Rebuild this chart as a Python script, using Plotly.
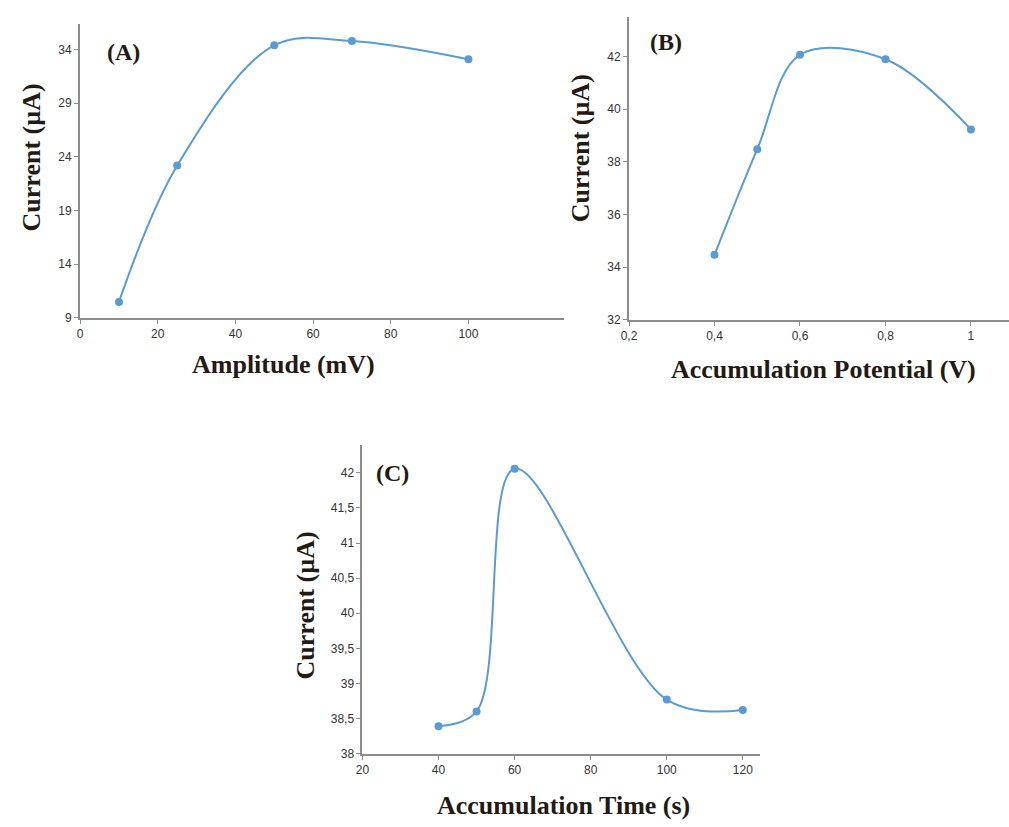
import plotly.graph_objects as go

# Data
amp_x = [10, 25, 50, 70, 100]
amp_y = [10.5, 23.2, 34.4, 34.8, 33.1]

pot_x = [0.4, 0.5, 0.6, 0.8, 1.0]
pot_y = [34.47, 38.48, 42.06, 41.89, 39.23]

time_x = [40, 50, 60, 100, 120]
time_y = [38.39, 38.6, 42.06, 38.77, 38.62]

a_xticks = [0, 20, 40, 60, 80, 100]
a_yticks = [9, 14, 19, 24, 29, 34]
b_xticks = [0.2, 0.4, 0.6, 0.8, 1.0]
b_xtext = ["0,2", "0,4", "0,6", "0,8", "1"]
b_yticks = [32, 34, 36, 38, 40, 42]
c_xticks = [20, 40, 60, 80, 100, 120]
c_yticks = [38, 38.5, 39, 39.5, 40, 40.5, 41, 41.5, 42]
c_ytext = ["38", "38,5", "39", "39,5", "40", "40,5", "41", "41,5", "42"]

W, H = 1009, 827
BLUE = "#5B9BD5"
AXC = "#8c8c8c"
TXT = "#231a14"
SERIF = "Liberation Serif"


def px(x):
    return x / W


def py(y):
    return 1 - y / H


fig = go.Figure()

panels = [
    dict(xs=amp_x, ys=amp_y, xa="x", ya="y", xdom=[72.7, 560], ydom=[24, 320.7],
         xr=[0, 124.5], yr=[9, 36.4], xt=a_xticks, xtt=[str(v) for v in a_xticks],
         yt=a_yticks, ytt=[str(v) for v in a_yticks]),
    dict(xs=pot_x, ys=pot_y, xa="x2", ya="y2", xdom=[626, 1009], ydom=[17, 322.7],
         xr=[0.2, 1.089], yr=[32, 43.5], xt=b_xticks, xtt=b_xtext,
         yt=b_yticks, ytt=[str(v) for v in b_yticks]),
    dict(xs=time_x, ys=time_y, xa="x3", ya="y3", xdom=[357.3, 758.3], ydom=[449.3, 760],
         xr=[20, 124.6], yr=[38, 42.39], xt=c_xticks, xtt=[str(v) for v in c_xticks],
         yt=c_yticks, ytt=c_ytext),
]

layout = dict(
    width=W, height=H, margin=dict(l=0, r=0, t=0, b=0, pad=0),
    paper_bgcolor="white", plot_bgcolor="white", showlegend=False,
)

for i, p in enumerate(panels):
    fig.add_trace(go.Scatter(
        x=p["xs"], y=p["ys"], xaxis=p["xa"], yaxis=p["ya"],
        mode="lines+markers",
        line=dict(color=BLUE, width=2, shape="spline", smoothing=1),
        marker=dict(color=BLUE, size=8),
        cliponaxis=False,
    ))
    sfx = "" if i == 0 else str(i + 1)
    common = dict(showgrid=False, zeroline=False, showline=True, linecolor=AXC,
                  linewidth=2, ticks="outside", ticklen=4, tickcolor=AXC, tickwidth=1,
                  tickfont=dict(family="Liberation Sans", size=12, color="#333333"))
    layout["xaxis" + sfx] = dict(
        domain=[px(p["xdom"][0]), px(p["xdom"][1])], range=p["xr"],
        anchor="y" + sfx, tickvals=p["xt"], ticktext=p["xtt"], **common)
    layout["yaxis" + sfx] = dict(
        domain=[py(p["ydom"][1]), py(p["ydom"][0])], range=p["yr"],
        anchor="x" + sfx, tickvals=p["yt"], ticktext=p["ytt"], **common)

fig.update_layout(**layout)

ann = [
    ("(A)", 116, 52, 0, 24),
    ("(B)", 663, 42, 0, 24),
    ("(C)", 388, 477, 0, 24),
    ("Current (µA)", 24, 159, -90, 26),
    ("Amplitude (mV)", 278, 368, 0, 26),
    ("Current (µA)", 577, 149, -90, 26),
    ("Accumulation Potential (V)", 822, 373, 0, 26),
    ("Current (µA)", 300, 611, -90, 26),
    ("Accumulation Time (s)", 560, 812, 0, 26),
]
for text, x, y, rot, size in ann:
    fig.add_annotation(
        text="<b>" + text + "</b>", x=px(x), y=py(y), xref="paper", yref="paper",
        xanchor="center", yanchor="middle", showarrow=False, textangle=rot,
        font=dict(family=SERIF, size=size, color=TXT),
    )

fig.write_html(
    "out.html",
    config={"displayModeBar": False},
    post_script="document.body.style.margin='0';document.body.style.overflow='hidden';",
)
